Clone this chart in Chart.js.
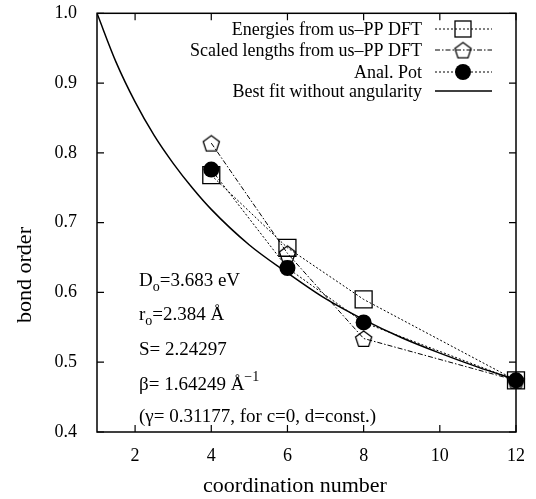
<!DOCTYPE html>
<html>
<head>
<meta charset="utf-8">
<script src="https://cdn.jsdelivr.net/npm/chart.js@4.4.1/dist/chart.umd.min.js"></script>
<style>
  html, body { margin: 0; padding: 0; background: #fff; }
</style>
</head>
<body>
<canvas id="grafico" width="536" height="499"></canvas>
<script>
// data
const coordination = [4, 6, 8, 12];
const energiesPP = [0.768, 0.664, 0.590, 0.474];
const scaledLengthsPP = [0.814, 0.656, 0.534, 0.474];
const analPot = [0.776, 0.635, 0.557, 0.474];

const fitX = [1, 1.5, 2, 2.5, 3, 3.5, 4, 5, 6, 7, 8, 9, 10, 11, 12];
const fitY = [1.0, 0.930, 0.873, 0.825, 0.785, 0.750, 0.719, 0.668, 0.628, 0.591, 0.561, 0.535, 0.513, 0.493, 0.475];

const xTicks = [2, 4, 6, 8, 10, 12];
const yTicks = [0.4, 0.5, 0.6, 0.7, 0.8, 0.9, 1.0];

const seriesNames = [
    "Energies from us\u2013PP DFT",
    "Scaled lengths from us\u2013PP DFT",
    "Anal. Pot",
    "Best fit without angularity"
];

const SERIF = '"Liberation Serif", "DejaVu Serif", serif';

// pentagon marker (open)
function makePentagon(r) {
    const size = Math.ceil(r * 2 + 4);
    const cv = document.createElement("canvas");
    cv.width = size; cv.height = size;
    const g = cv.getContext("2d");
    g.strokeStyle = "#000";
    g.lineWidth = 1.3;
    g.beginPath();
    for (let i = 0; i < 5; i++) {
        const a = -Math.PI / 2 + i * 2 * Math.PI / 5;
        const px = size / 2 + r * Math.cos(a);
        const py = size / 2 + 1 + r * Math.sin(a);
        if (i === 0) g.moveTo(px, py); else g.lineTo(px, py);
    }
    g.closePath();
    g.stroke();
    return cv;
}
const pentagon = makePentagon(8.5);

function pts(xs, ys) {
    return xs.map((x, i) => ({ x: x, y: ys[i] }));
}

// frame, inward ticks, axis titles, annotation and legend
const extras = {
    id: "extras",
    afterDraw(chart) {
        const ctx = chart.ctx;
        const a = chart.chartArea;
        const sx = chart.scales.x, sy = chart.scales.y;
        ctx.save();
        ctx.strokeStyle = "#000";
        ctx.lineWidth = 1.5;
        ctx.strokeRect(a.left, a.top, a.right - a.left, a.bottom - a.top);
        ctx.lineWidth = 1.2;
        const t = 7;
        ctx.beginPath();
        xTicks.forEach(v => {
            const p = sx.getPixelForValue(v);
            ctx.moveTo(p, a.bottom); ctx.lineTo(p, a.bottom - t);
            ctx.moveTo(p, a.top); ctx.lineTo(p, a.top + t);
        });
        yTicks.forEach(v => {
            const p = sy.getPixelForValue(v);
            ctx.moveTo(a.left, p); ctx.lineTo(a.left + t, p);
            ctx.moveTo(a.right, p); ctx.lineTo(a.right - t, p);
        });
        ctx.stroke();

        // axis titles
        ctx.fillStyle = "#000";
        ctx.font = "22px " + SERIF;
        ctx.textAlign = "center";
        ctx.textBaseline = "middle";
        ctx.fillText("coordination number", 295, 486);
        ctx.save();
        ctx.translate(25, 275);
        ctx.rotate(-Math.PI / 2);
        ctx.fillText("bond order", 0, 0);
        ctx.restore();

        // parameters text
        ctx.textAlign = "left";
        ctx.textBaseline = "alphabetic";
        const big = "19px " + SERIF, small = "14px " + SERIF;
        function runs(x, y, parts) {
            parts.forEach(p => {
                ctx.font = p.s ? small : big;
                const dy = p.s === "sub" ? 5 : (p.s === "sup" ? -9 : 0);
                ctx.fillText(p.t, x, y + dy);
                x += ctx.measureText(p.t).width;
            });
        }
        runs(139, 286, [{ t: "D" }, { t: "o", s: "sub" }, { t: "=3.683 eV" }]);
        runs(139, 320, [{ t: "r" }, { t: "o", s: "sub" }, { t: "=2.384 \u00c5" }]);
        runs(139, 355, [{ t: "S= 2.24297" }]);
        runs(139, 390, [{ t: "\u03b2= 1.64249 \u00c5" }, { t: "\u22121", s: "sup" }]);
        runs(139, 422, [{ t: "(\u03b3= 0.31177, for c=0, d=const.)" }]);

        // legend
        const rows = [29, 50, 72, 91];
        const dashes = [[2, 2], [5, 2, 1.5, 2], [2, 2], []];
        ctx.font = "18px " + SERIF;
        ctx.textAlign = "right";
        ctx.textBaseline = "middle";
        seriesNames.forEach((name, i) => {
            const y = rows[i];
            ctx.fillText(name, 422, y + 1);
            ctx.setLineDash(dashes[i]);
            ctx.lineWidth = i === 3 ? 1.4 : 1;
            ctx.beginPath();
            ctx.moveTo(435, y); ctx.lineTo(492, y);
            ctx.stroke();
            ctx.setLineDash([]);
            ctx.lineWidth = 1.3;
            if (i === 0) {
                ctx.strokeRect(455, y - 8, 16, 16);
            } else if (i === 1) {
                ctx.drawImage(pentagon, 463 - pentagon.width / 2, y - pentagon.height / 2);
            } else if (i === 2) {
                ctx.beginPath();
                ctx.arc(463, y, 8, 0, Math.PI * 2);
                ctx.fill();
            }
        });
        ctx.restore();
    }
};

new Chart(document.getElementById("grafico"), {
    type: "scatter",
    data: {
        datasets: [
            {
                label: seriesNames[2],
                data: pts(coordination, analPot),
                showLine: true,
                borderColor: "#000",
                backgroundColor: "#000",
                borderWidth: 1,
                borderDash: [2, 2],
                pointStyle: "circle",
                pointRadius: 8,
                pointBorderWidth: 0,
                clip: false,
                order: 0
            },
            {
                label: seriesNames[1],
                data: pts(coordination, scaledLengthsPP),
                showLine: true,
                borderColor: "#000",
                backgroundColor: "rgba(0,0,0,0)",
                borderWidth: 1,
                borderDash: [5, 2, 1.5, 2],
                pointStyle: pentagon,
                clip: false,
                order: 1
            },
            {
                label: seriesNames[0],
                data: pts(coordination, energiesPP),
                showLine: true,
                borderColor: "#000",
                backgroundColor: "rgba(0,0,0,0)",
                borderWidth: 1,
                borderDash: [2, 2],
                pointStyle: "rect",
                pointRadius: 12,
                pointBorderWidth: 1.3,
                clip: false,
                order: 2
            },
            {
                label: seriesNames[3],
                data: pts(fitX, fitY),
                showLine: true,
                borderColor: "#000",
                borderWidth: 1.5,
                pointRadius: 0,
                cubicInterpolationMode: "monotone",
                order: 3
            }
        ]
    },
    options: {
        responsive: false,
        animation: false,
        devicePixelRatio: 1,
        layout: { padding: { left: 0, top: 13, right: 20, bottom: 0 } },
        plugins: {
            legend: { display: false },
            tooltip: { enabled: false }
        },
        scales: {
            x: {
                type: "linear",
                min: 1,
                max: 12,
                afterBuildTicks: s => { s.ticks = xTicks.map(v => ({ value: v })); },
                afterFit: s => { s.height = 67; s.paddingLeft = 0; s.paddingRight = 0; },
                grid: { display: false },
                border: { display: false },
                ticks: {
                    color: "#000",
                    font: { family: SERIF, size: 18 },
                    padding: 5,
                    maxRotation: 0
                }
            },
            y: {
                type: "linear",
                min: 0.4,
                max: 1.0,
                afterBuildTicks: s => { s.ticks = yTicks.map(v => ({ value: v })); },
                afterFit: s => { s.width = 97; s.paddingTop = 0; s.paddingBottom = 0; },
                grid: { display: false },
                border: { display: false },
                ticks: {
                    color: "#000",
                    font: { family: SERIF, size: 18 },
                    padding: 12,
                    callback: v => v.toFixed(1)
                }
            }
        }
    },
    plugins: [extras]
});
</script>
</body>
</html>
